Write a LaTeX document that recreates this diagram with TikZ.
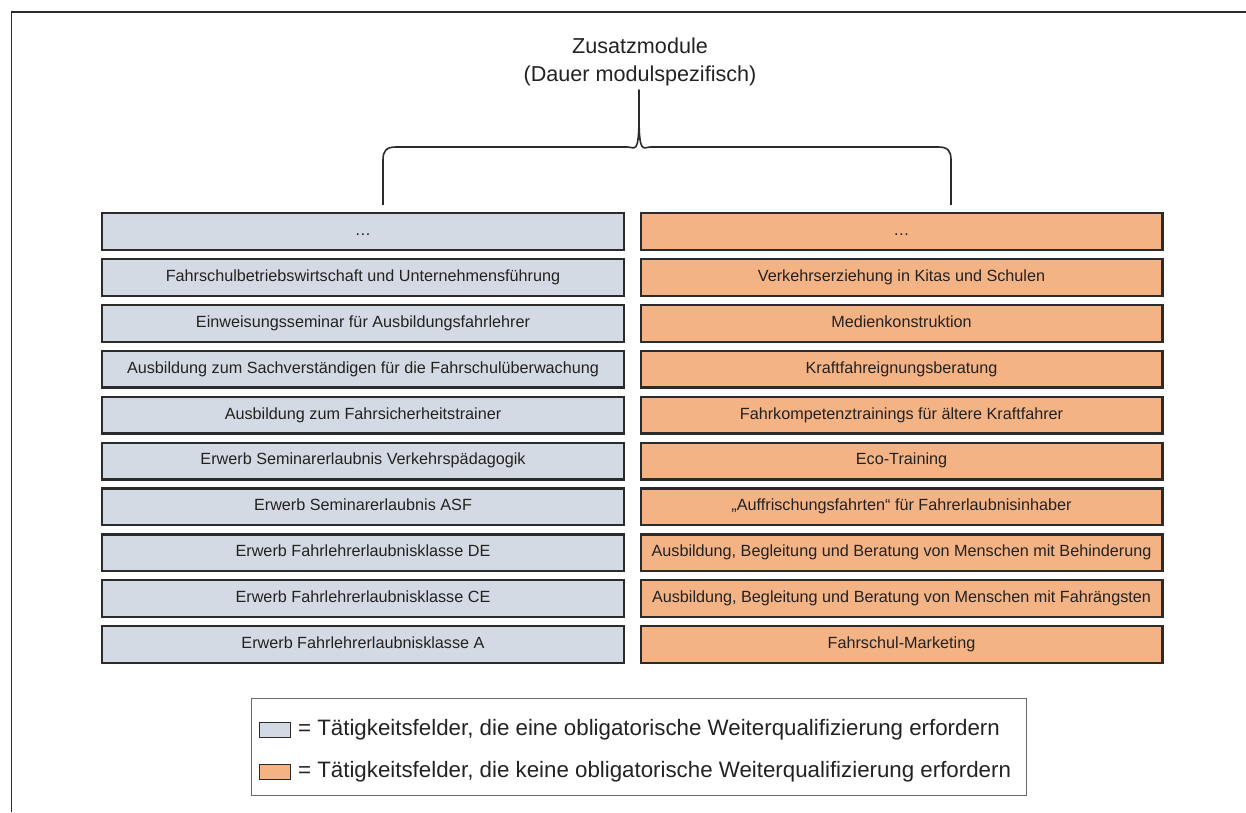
\documentclass[tikz,border=0pt]{standalone}
\usepackage{fontspec}
\setmainfont{Liberation Sans}
\usepackage{tikz}
\usetikzlibrary{positioning}

\definecolor{pflichtfill}{HTML}{D4DAE3}
\definecolor{freifill}{HTML}{F4B384}
\definecolor{boxline}{HTML}{2B2B2B}
\definecolor{textgray}{HTML}{222222}

\tikzset{
	modbox/.style={draw=boxline, line width=2.2pt, minimum width=521.8pt, minimum height=36.8pt, inner sep=0pt, text height=0.78em, text depth=0pt, text=textgray, font=\fontsize{16.2}{19}\selectfont},
	pflicht/.style={modbox, fill=pflichtfill},
	frei/.style={modbox, fill=freifill},
	swatch/.style={draw=boxline, line width=0.8pt, minimum width=31pt, minimum height=15pt, inner sep=0pt},
	legtext/.style={text=textgray, inner sep=0pt, font=\fontsize{22.3}{26}\selectfont}
}

\begin{document}
\begin{tikzpicture}[x=1pt,y=1pt]
\useasboundingbox (0,0) rectangle (1246,812);
% outer frame (only top and left visible)
\draw[boxline, line width=1.8pt] (11.5,0) -- (11.5,800) -- (1246,800);

% title
\node[text=textgray, align=center, font=\fontsize{21.6}{28}\selectfont] (titel) at (640,750) {Zusatzmodule\\(Dauer modulspezifisch)};

% left column
\node[pflicht] (l0) at (363,580.5) {…};
\node[pflicht, below=6.9pt of l0] (l1) {Fahrschulbetriebswirtschaft und Unternehmensführung};
\node[pflicht, below=6.9pt of l1] (l2) {Einweisungsseminar für Ausbildungsfahrlehrer};
\node[pflicht, below=6.9pt of l2] (l3) {Ausbildung zum Sachverständigen für die Fahrschulüberwachung};
\node[pflicht, below=6.9pt of l3] (l4) {Ausbildung zum Fahrsicherheitstrainer};
\node[pflicht, below=6.9pt of l4] (l5) {Erwerb Seminarerlaubnis Verkehrspädagogik};
\node[pflicht, below=6.9pt of l5] (l6) {Erwerb Seminarerlaubnis ASF};
\node[pflicht, below=6.9pt of l6] (l7) {Erwerb Fahrlehrerlaubnisklasse DE};
\node[pflicht, below=6.9pt of l7] (l8) {Erwerb Fahrlehrerlaubnisklasse CE};
\node[pflicht, below=6.9pt of l8] (l9) {Erwerb Fahrlehrerlaubnisklasse A};

% right column
\node[frei] (r0) at (901.5,580.5) {…};
\node[frei, below=6.9pt of r0] (r1) {Verkehrserziehung in Kitas und Schulen};
\node[frei, below=6.9pt of r1] (r2) {Medienkonstruktion};
\node[frei, below=6.9pt of r2] (r3) {Kraftfahreignungsberatung};
\node[frei, below=6.9pt of r3] (r4) {Fahrkompetenztrainings für ältere Kraftfahrer};
\node[frei, below=6.9pt of r4] (r5) {Eco-Training};
\node[frei, below=6.9pt of r5] (r6) {„Auffrischungsfahrten“ für Fahrerlaubnisinhaber};
\node[frei, below=6.9pt of r6] (r7) {Ausbildung, Begleitung und Beratung von Menschen mit Behinderung};
\node[frei, below=6.9pt of r7] (r8) {Ausbildung, Begleitung und Beratung von Menschen mit Fahrängsten};
\node[frei, below=6.9pt of r8] (r9) {Fahrschul-Marketing};

% brace
\coordinate (bl) at (383,607);
\coordinate (br) at (951,607);
\coordinate (tip) at (639,722);
\draw[boxline, line width=1.6pt, line join=round]
	(bl) -- (383,652) .. controls (383,661) and (386,665) .. (396,665)
	-- (627,665) .. controls (635,665) and (639,656) .. (639,697) -- (tip)
	-- (639,697) .. controls (639,656) and (643,665) .. (651,665)
	-- (938,665) .. controls (948,665) and (951,661) .. (951,652) -- (br);

% legend
\node[draw=boxline!70, line width=0.9pt, minimum width=775pt, minimum height=97pt, inner sep=0pt] (leg) at (638.5,65.5) {};
\node[swatch, fill=pflichtfill] (sw1) at (275,82) {};
\node[swatch, fill=freifill] (sw2) at (275,40) {};
\node[legtext, right=7pt of sw1] (lt1) {= Tätigkeitsfelder, die eine obligatorische Weiterqualifizierung erfordern};
\node[legtext, right=7pt of sw2] (lt2) {= Tätigkeitsfelder, die keine obligatorische Weiterqualifizierung erfordern};
\end{tikzpicture}
\end{document}
